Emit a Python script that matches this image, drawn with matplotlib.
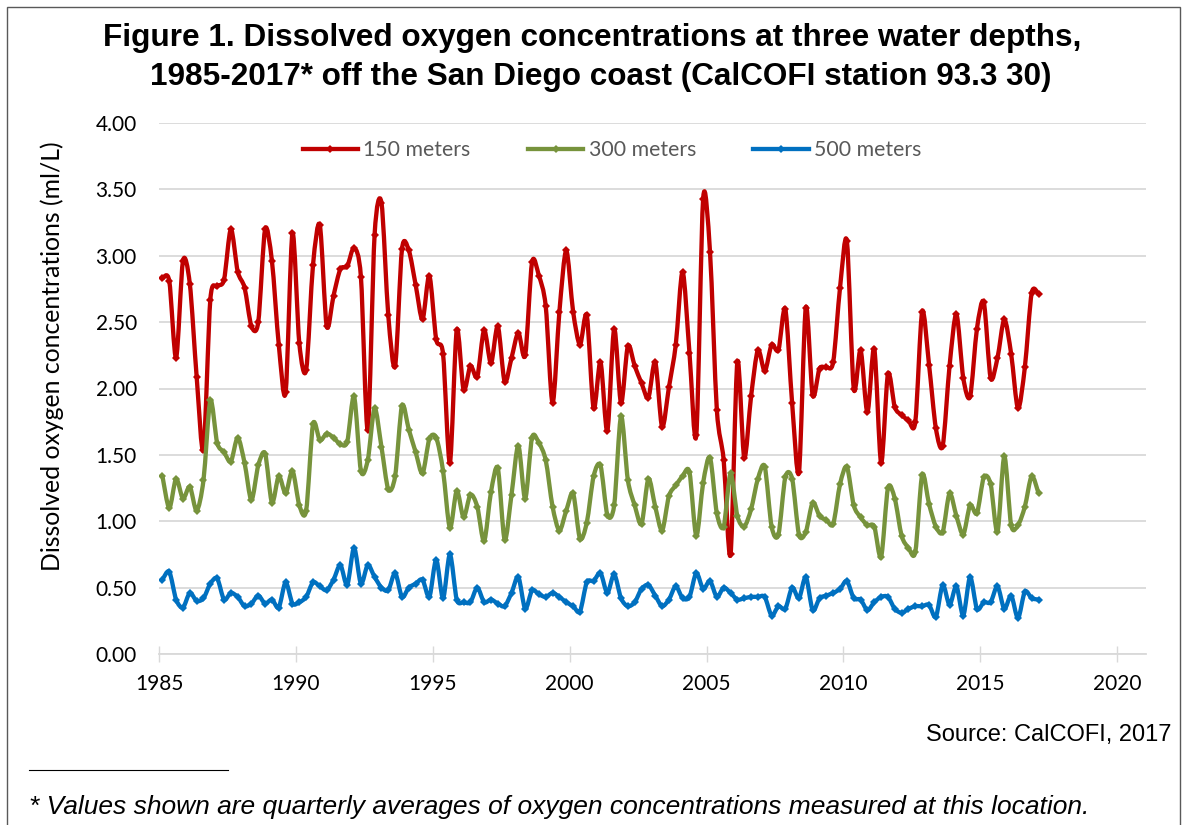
import matplotlib
matplotlib.use("Agg")
import matplotlib.pyplot as plt
from matplotlib.lines import Line2D
from matplotlib.patches import Rectangle, PathPatch
from matplotlib.path import Path
import numpy as np

# ---- data (quarterly averages, ml/L) ----
start_year = 1985.125
step_years = 0.25

do_150m = [2.83, 2.81, 2.23, 2.96, 2.79, 2.09, 1.54, 2.67, 2.77, 2.82,
           3.20, 2.88, 2.76, 2.47, 2.50, 3.20, 2.96, 2.33, 1.97, 3.17,
           2.34, 2.14, 2.93, 3.23, 2.47, 2.70, 2.90, 2.92, 3.06, 2.84,
           1.69, 3.16, 3.40, 2.55, 2.17, 3.05, 3.04, 2.78, 2.52, 2.85,
           2.37, 2.26, 1.44, 2.44, 1.99, 2.17, 2.09, 2.44, 2.19, 2.47,
           2.05, 2.23, 2.42, 2.25, 2.95, 2.85, 2.62, 1.89, 2.58, 3.04,
           2.58, 2.33, 2.55, 1.85, 2.20, 1.68, 2.45, 1.89, 2.32, 2.17,
           2.04, 1.93, 2.20, 1.71, 2.01, 2.33, 2.88, 2.27, 1.65, 3.43,
           3.03, 1.84, 1.46, 0.75, 2.20, 1.48, 1.94, 2.29, 2.13, 2.33,
           2.29, 2.60, 1.89, 1.37, 2.61, 1.95, 2.15, 2.16, 2.20, 2.76,
           3.11, 2.00, 2.29, 1.82, 2.30, 1.44, 2.11, 1.86, 1.80, 1.76,
           1.75, 2.58, 2.18, 1.70, 1.57, 2.17, 2.56, 2.08, 1.94, 2.45,
           2.65, 2.08, 2.23, 2.52, 2.26, 1.85, 2.16, 2.72, 2.71]

do_300m = [1.34, 1.10, 1.32, 1.17, 1.26, 1.08, 1.31, 1.91, 1.59, 1.52,
           1.45, 1.63, 1.44, 1.16, 1.42, 1.51, 1.14, 1.34, 1.21, 1.38,
           1.12, 1.08, 1.73, 1.61, 1.66, 1.63, 1.58, 1.60, 1.94, 1.38,
           1.46, 1.85, 1.56, 1.24, 1.34, 1.87, 1.69, 1.52, 1.36, 1.62,
           1.63, 1.38, 0.95, 1.23, 1.03, 1.20, 1.11, 0.85, 1.22, 1.40,
           0.86, 1.20, 1.57, 1.17, 1.63, 1.59, 1.46, 1.11, 0.93, 1.08,
           1.21, 0.87, 0.99, 1.34, 1.42, 1.05, 1.12, 1.79, 1.31, 1.12,
           0.98, 1.32, 1.11, 0.93, 1.19, 1.27, 1.34, 1.37, 0.89, 1.29,
           1.48, 1.06, 0.96, 1.36, 1.04, 0.96, 1.09, 1.32, 1.41, 0.96,
           0.90, 1.33, 1.32, 0.90, 0.92, 1.14, 1.04, 1.01, 0.98, 1.28,
           1.41, 1.12, 1.03, 0.97, 0.96, 0.73, 1.25, 1.17, 0.89, 0.80,
           0.77, 1.35, 1.13, 0.96, 0.92, 1.21, 1.04, 0.90, 1.12, 1.06,
           1.33, 1.28, 0.92, 1.49, 0.97, 0.97, 1.11, 1.34, 1.21]

do_500m = [0.56, 0.62, 0.41, 0.35, 0.46, 0.40, 0.42, 0.53, 0.57, 0.41,
           0.46, 0.43, 0.36, 0.38, 0.44, 0.38, 0.41, 0.35, 0.54, 0.38,
           0.39, 0.43, 0.54, 0.51, 0.48, 0.56, 0.67, 0.52, 0.80, 0.53,
           0.67, 0.58, 0.50, 0.48, 0.61, 0.43, 0.50, 0.53, 0.56, 0.43,
           0.71, 0.42, 0.75, 0.41, 0.39, 0.39, 0.50, 0.39, 0.41, 0.38,
           0.36, 0.46, 0.58, 0.34, 0.48, 0.45, 0.43, 0.46, 0.43, 0.39,
           0.36, 0.32, 0.54, 0.55, 0.61, 0.46, 0.60, 0.42, 0.36, 0.39,
           0.49, 0.52, 0.44, 0.36, 0.41, 0.51, 0.42, 0.43, 0.61, 0.49,
           0.55, 0.43, 0.50, 0.46, 0.41, 0.42, 0.43, 0.43, 0.43, 0.29,
           0.36, 0.34, 0.50, 0.42, 0.58, 0.33, 0.42, 0.44, 0.46, 0.49,
           0.55, 0.42, 0.41, 0.33, 0.39, 0.43, 0.43, 0.34, 0.31, 0.34,
           0.36, 0.36, 0.37, 0.28, 0.52, 0.37, 0.51, 0.29, 0.58, 0.34,
           0.39, 0.39, 0.51, 0.34, 0.44, 0.27, 0.47, 0.42, 0.41]

series_labels = ["150 meters", "300 meters", "500 meters"]
series_colors = ["#C00000", "#77933C", "#0070C0"]

x_ticks = [1985, 1990, 1995, 2000, 2005, 2010, 2015, 2020]
y_ticks = [0.0, 0.5, 1.0, 1.5, 2.0, 2.5, 3.0, 3.5, 4.0]

title_line1 = "Figure 1. Dissolved oxygen concentrations at three water depths,"
title_line2 = "1985-2017* off the San Diego coast (CalCOFI station 93.3 30)"
y_label = "Dissolved oxygen concentrations (ml/L)"
source_text = "Source: CalCOFI, 2017"
footnote = "* Values shown are quarterly averages of oxygen concentrations measured at this location."


def smooth_path(x, y, k=7.0):
    """Cubic Bezier path through the data points (Excel-like smoothed line)."""
    pts = np.column_stack([np.asarray(x, float), np.asarray(y, float)])
    ext = np.vstack([pts[0], pts, pts[-1]])
    verts = [pts[0]]
    codes = [Path.MOVETO]
    for i in range(len(pts) - 1):
        p0, p1, p2, p3 = ext[i], ext[i + 1], ext[i + 2], ext[i + 3]
        verts += [p1 + (p2 - p0) / k, p2 - (p3 - p1) / k, p2]
        codes += [Path.CURVE4] * 3
    return Path(verts, codes)


# ---- figure ----
W, H = 1184, 825
fig = plt.figure(figsize=(W / 100, H / 100), dpi=100)
fig.patch.set_facecolor("white")

fig.add_artist(Rectangle((7 / W, -0.05), (1180 - 7) / W, 1.05 - 7 / H,
                         transform=fig.transFigure, fill=False,
                         edgecolor="#595959", linewidth=1.0))

ax_left, ax_right, ax_top, ax_bot = 159, 1146, 123, 654
ax = fig.add_axes([ax_left / W, 1 - ax_bot / H,
                   (ax_right - ax_left) / W, (ax_bot - ax_top) / H])

n = len(do_150m)
years = start_year + step_years * np.arange(n)

LW = 3.1
MS = 4.4
handles = []
for vals, lab, col, z in zip([do_150m, do_300m, do_500m], series_labels,
                             series_colors, [3, 4, 5]):
    patch = PathPatch(smooth_path(years, vals), facecolor="none",
                      edgecolor=col, linewidth=LW, zorder=z,
                      joinstyle="round", capstyle="round")
    ax.add_patch(patch)
    ax.plot(years, vals, linestyle="none", marker="D", markersize=MS,
            markeredgewidth=0, color=col, zorder=z + 0.1)
    handles.append(Line2D([], [], color=col, linewidth=LW, marker="D",
                          markersize=MS, markeredgewidth=0, label=lab))

ax.set_xlim(1985, 2021.05)
ax.set_ylim(0, 4.0)
ax.set_xticks(x_ticks)
ax.set_xticklabels([str(t) for t in x_ticks])
ax.set_yticks(y_ticks)
ax.set_yticklabels([f"{t:.2f}" for t in y_ticks])
for lbl in ax.get_xticklabels() + ax.get_yticklabels():
    lbl.set_fontfamily("Lato")
    lbl.set_fontsize(15)
    lbl.set_color("#000000")

ax.grid(axis="y", color="#D9D9D9", linewidth=1.3, zorder=0)
ax.set_axisbelow(True)
for s in ["left", "right", "top"]:
    ax.spines[s].set_visible(False)
ax.spines["bottom"].set_color("#D9D9D9")
ax.spines["bottom"].set_linewidth(1.3)
ax.tick_params(axis="y", length=0, pad=16)
ax.tick_params(axis="x", direction="inout", length=11, width=1.0,
               color="#D9D9D9", pad=9)

fig.text(52 / W, 1 - 356 / H, y_label, rotation=90, ha="center",
         va="center", fontfamily="Lato", fontsize=17.8)

leg = ax.legend(handles=handles, loc="center",
                bbox_to_anchor=(0.459, 0.949), ncol=3, frameon=False,
                handlelength=2.6, handletextpad=0.25, columnspacing=2.7,
                numpoints=1, prop=dict(family="Lato", size=15.3))
for t in leg.get_texts():
    t.set_color("#595959")

fig.text(592 / W, 1 - 38 / H, title_line1, ha="center", va="center",
         fontfamily="Liberation Sans", fontweight="bold", fontsize=22.7)
fig.text(601 / W, 1 - 77 / H, title_line2, ha="center", va="center",
         fontfamily="Liberation Sans", fontweight="bold", fontsize=22.7)

fig.text(1172 / W, 1 - 735 / H, source_text, ha="right", va="center",
         fontfamily="Liberation Sans", fontsize=17)

fig.add_artist(Line2D([29 / W, 228 / W], [1 - 770 / H, 1 - 770 / H],
                      transform=fig.transFigure, color="#000000",
                      linewidth=0.8))
fig.text(29 / W, 1 - 807 / H, footnote, ha="left", va="center",
         fontfamily="Liberation Sans", fontstyle="italic", fontsize=19)

fig.savefig("out.png", dpi=100, facecolor="white")
